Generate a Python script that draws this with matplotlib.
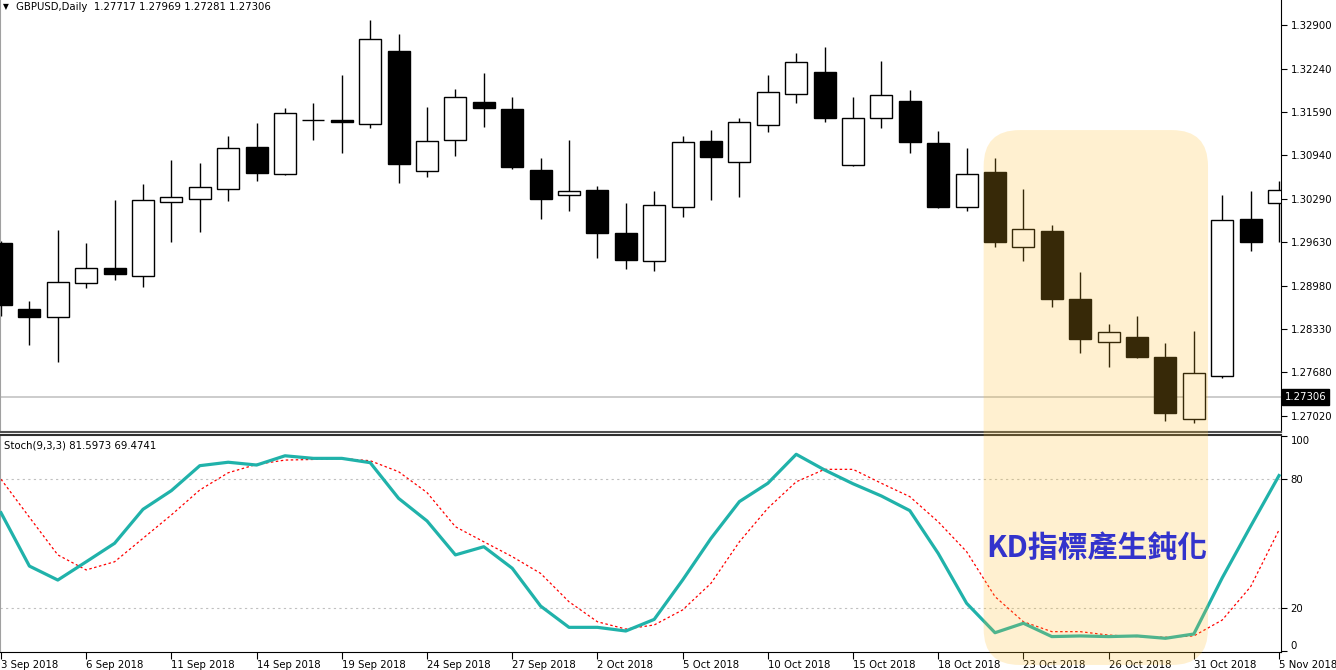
import matplotlib
matplotlib.use('Agg')
import matplotlib.pyplot as plt
import numpy as np
from matplotlib.patches import FancyBboxPatch
from matplotlib.transforms import IdentityTransform, blended_transform_factory

plt.rcParams['font.family'] = ['DejaVu Sans']

# GBPUSD daily, 3 Sep 2018 .. 5 Nov 2018
opens = [1.2962, 1.2863, 1.2851, 1.2902, 1.2925, 1.2913, 1.3024, 1.3028, 1.3043, 1.3107,
         1.3066, 1.3147, 1.3147, 1.3141, 1.3251, 1.3070, 1.3117, 1.3174, 1.3164, 1.3072,
         1.3034, 1.3042, 1.2977, 1.2935, 1.3016, 1.3116, 1.3084, 1.3140, 1.3186, 1.3219,
         1.3079, 1.3150, 1.3176, 1.3113, 1.3016, 1.3069, 1.2956, 1.2980, 1.2878, 1.2813,
         1.2821, 1.2791, 1.2697, 1.2762, 1.2998, 1.3022]
highs = [1.2965, 1.2875, 1.2982, 1.2962, 1.3027, 1.3051, 1.3087, 1.3082, 1.3123, 1.3143,
         1.3165, 1.3173, 1.3215, 1.3298, 1.3277, 1.3167, 1.3194, 1.3218, 1.3182, 1.3090,
         1.3117, 1.3048, 1.3022, 1.3040, 1.3123, 1.3132, 1.3150, 1.3215, 1.3248, 1.3257,
         1.3182, 1.3236, 1.3192, 1.3131, 1.3105, 1.3090, 1.3043, 1.2989, 1.2919, 1.2840,
         1.2852, 1.2812, 1.2830, 1.3034, 1.3040, 1.3055]
lows = [1.2852, 1.2809, 1.2783, 1.2894, 1.2907, 1.2896, 1.2964, 1.2979, 1.3025, 1.3055,
        1.3065, 1.3117, 1.3098, 1.3135, 1.3052, 1.3061, 1.3093, 1.3137, 1.3073, 1.2998,
        1.3010, 1.2940, 1.2923, 1.2920, 1.3001, 1.3027, 1.3031, 1.3129, 1.3173, 1.3144,
        1.3078, 1.3135, 1.3098, 1.3015, 1.3010, 1.2956, 1.2935, 1.2866, 1.2797, 1.2776,
        1.2790, 1.2694, 1.2691, 1.2759, 1.2950, 1.2964]
closes = [1.2869, 1.2851, 1.2904, 1.2925, 1.2916, 1.3027, 1.3031, 1.3046, 1.3105, 1.3067,
          1.3158, 1.3147, 1.3144, 1.3269, 1.3081, 1.3116, 1.3182, 1.3165, 1.3076, 1.3028,
          1.3040, 1.2977, 1.2937, 1.3019, 1.3114, 1.3092, 1.3144, 1.3189, 1.3234, 1.3150,
          1.3150, 1.3185, 1.3114, 1.3016, 1.3066, 1.2964, 1.2983, 1.2878, 1.2818, 1.2828,
          1.2791, 1.2706, 1.2767, 1.2997, 1.2964, 1.3042]

# Stoch(9,3,3): %K (main) and %D (signal)
k_line = [64.3, 39.5, 33.0, 41.5, 50.1, 65.9, 74.6, 86.2, 87.8, 86.5,
          90.8, 89.6, 89.6, 87.6, 71.0, 60.5, 44.7, 48.5, 38.5, 20.9,
          11.0, 11.0, 9.3, 14.7, 33.0, 52.4, 69.5, 78.0, 91.5, 84.2,
          77.8, 72.1, 65.3, 45.4, 22.2, 8.5, 12.9, 6.7, 7.0, 6.7,
          7.0, 5.9, 7.9, 34.0, 58.0, 81.6]
d_line = [79.9, 62.2, 44.7, 37.7, 41.5, 52.4, 63.3, 74.9, 82.9, 86.8,
          88.8, 89.1, 89.6, 88.5, 83.4, 73.7, 57.8, 50.8, 43.9, 36.1,
          22.9, 13.6, 10.2, 12.1, 19.1, 31.5, 50.8, 66.4, 78.7, 84.5,
          84.5, 78.0, 71.8, 60.1, 46.2, 25.3, 13.6, 9.0, 9.0, 7.4,
          6.7, 6.4, 7.0, 14.4, 29.9, 56.3]

date_pos = [0, 3, 6, 9, 12, 15, 18, 21, 24, 27, 30, 33, 36, 39, 42, 45]
date_labels = ['3 Sep 2018', '6 Sep 2018', '11 Sep 2018', '14 Sep 2018', '19 Sep 2018',
               '24 Sep 2018', '27 Sep 2018', '2 Oct 2018', '5 Oct 2018', '10 Oct 2018',
               '15 Oct 2018', '18 Oct 2018', '23 Oct 2018', '26 Oct 2018', '31 Oct 2018',
               '5 Nov 2018']
price_ticks = [1.32900, 1.32240, 1.31590, 1.30940, 1.30290,
               1.29630, 1.28980, 1.28330, 1.27680, 1.27020]
stoch_ticks = [0, 20, 80, 100]
last_price = 1.27306

W, H = 1336, 670
fig = plt.figure(figsize=(W / 100, H / 100), dpi=100)
fig.patch.set_facecolor('white')

ax_p = fig.add_axes([0, (H - 432) / H, 1281 / W, 432 / H])
ax_s = fig.add_axes([0, (H - 652) / H, 1281 / W, (652 - 435) / H])

x = np.arange(len(opens))
o = np.array(opens)
h = np.array(highs)
l = np.array(lows)
c = np.array(closes)
up = c >= o

# candles
ax_p.vlines(x, l, h, color='black', lw=1, zorder=2)
ax_p.bar(x[up], c[up] - o[up], bottom=o[up], width=0.78, color='white',
         edgecolor='black', lw=1, zorder=3)
ax_p.bar(x[~up], o[~up] - c[~up], bottom=c[~up], width=0.78, color='black',
         edgecolor='black', lw=1, zorder=3)
ax_p.axhline(last_price, color='#c8c8c8', lw=1.3, zorder=1)

ax_p.set_xlim(-0.035, 45.07)
ax_p.set_ylim(1.2678, 1.33276)
ax_p.set_xticks([])
ax_p.yaxis.tick_right()
ax_p.set_yticks(price_ticks)
ax_p.set_yticklabels(['%.5f' % p for p in price_ticks])
ax_p.tick_params(axis='y', length=4, width=0.8, labelsize=7.3, pad=3, colors='black')
ax_p.spines['top'].set_visible(False)
ax_p.spines['left'].set_color('#a0a0a0')
ax_p.spines['right'].set_color('black')
ax_p.spines['bottom'].set_color('#505050')
ax_p.spines['bottom'].set_linewidth(1.5)

tr = blended_transform_factory(ax_p.transAxes, ax_p.transData)
ax_p.text(1.003, last_price, '%.5f' % last_price, transform=tr, color='white',
          fontsize=7.3, ha='left', va='center', clip_on=False,
          bbox=dict(boxstyle='square,pad=0.25', fc='black', ec='black'))

# stochastic
ax_s.axhline(80, color='#c0c0c0', lw=0.8, ls=(0, (2, 3)), zorder=1)
ax_s.axhline(20, color='#c0c0c0', lw=0.8, ls=(0, (2, 3)), zorder=1)
ax_s.plot(x, k_line, color='#20b2aa', lw=2.3, zorder=3)
ax_s.plot(x, d_line, color='red', lw=0.9, ls=(0, (2, 2)), zorder=2)
ax_s.set_xlim(-0.035, 45.07)
ax_s.set_ylim(-0.47, 100.47)
ax_s.yaxis.tick_right()
ax_s.set_yticks(stoch_ticks)
ax_s.set_yticklabels([str(v) for v in stoch_ticks])
ax_s.tick_params(axis='y', length=4, width=0.8, labelsize=7.3, pad=3, colors='black')
ylabs = ax_s.get_yticklabels()
ylabs[0].set_va('bottom')
ylabs[-1].set_va('top')
ax_s.set_xticks(date_pos)
ax_s.set_xticklabels(date_labels)
ax_s.tick_params(axis='x', length=5, width=0.8, labelsize=7.3, pad=1, colors='black')
for lab in ax_s.get_xticklabels():
    lab.set_ha('left')
ax_s.spines['top'].set_color('#303030')
ax_s.spines['top'].set_linewidth(1.5)
ax_s.spines['left'].set_color('#a0a0a0')
ax_s.spines['right'].set_color('black')
ax_s.spines['bottom'].set_color('black')

fig.text(3 / W, 1 - 7 / H, '▼', fontsize=5.5, va='center', ha='left')
fig.text(16 / W, 1 - 7 / H, 'GBPUSD,Daily  1.27717 1.27969 1.27281 1.27306',
         fontsize=7.3, va='center', ha='left')
fig.text(4 / W, 1 - 445 / H, 'Stoch(9,3,3) 81.5973 69.4741',
         fontsize=7.3, va='center', ha='left')

# highlighted zone
x0, y_top = ax_p.transData.transform((34.6, 1.3132))
x1, _ = ax_p.transData.transform((42.5, 1.3132))
_, y_bot = ax_s.transData.transform((34.6, -6.5))
zone = FancyBboxPatch((x0, y_bot), x1 - x0, y_top - y_bot,
                      boxstyle='round,pad=0,rounding_size=36',
                      transform=IdentityTransform(), fc=(1.0, 0.75, 0.16),
                      alpha=0.22, ec='none', zorder=5)
fig.add_artist(zone)

fig.text(38.6, 47.9, 'KD指標產生鈍化', transform=ax_s.transData, fontsize=21.5,
         fontweight='bold', color='#3333cc', family=['Noto Sans CJK TC', 'DejaVu Sans'],
         ha='center', va='center', zorder=6)

fig.savefig('out.png', dpi=100)
